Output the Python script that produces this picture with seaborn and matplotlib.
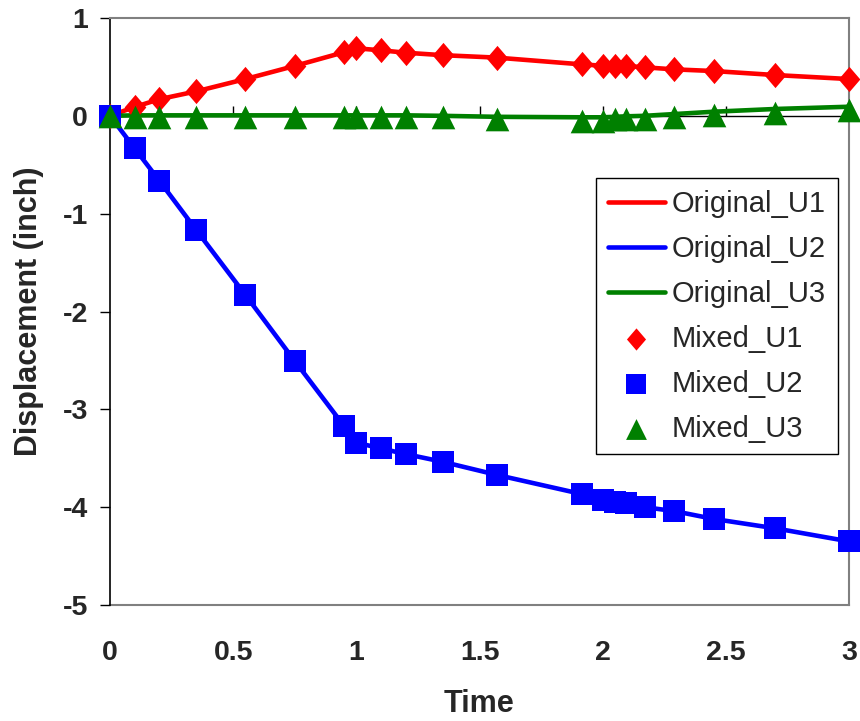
import matplotlib
matplotlib.use("Agg")
import matplotlib.pyplot as plt
from matplotlib.ticker import FuncFormatter
import seaborn as sns

# ---- data ----
time = [0, 0.1, 0.2, 0.35, 0.55, 0.75, 0.95, 1.0, 1.1, 1.2, 1.35, 1.57,
        1.915, 2.0, 2.05, 2.095, 2.17, 2.29, 2.45, 2.70, 3.0]

orig_u1 = [0, 0.09, 0.17, 0.25, 0.376, 0.51, 0.65, 0.69, 0.67, 0.645, 0.62,
           0.595, 0.526, 0.512, 0.51, 0.51, 0.496, 0.475, 0.458, 0.417, 0.376]
orig_u2 = [0, -0.332, -0.663, -1.167, -1.832, -2.506, -3.17, -3.34, -3.40,
           -3.457, -3.536, -3.67, -3.866, -3.93, -3.945, -3.96, -4.0, -4.04,
           -4.12, -4.216, -4.35]
orig_u3 = [0, 0.005, 0.005, 0.005, 0.005, 0.005, 0.005, 0.005, 0.005, 0.005,
           0.0, -0.01, -0.015, -0.015, -0.01, -0.005, 0.0, 0.018, 0.042,
           0.07, 0.093]

mixed_u1 = list(orig_u1)
mixed_u2 = list(orig_u2)
mixed_u3 = [0, -0.012, -0.012, -0.012, -0.012, -0.012, -0.012, -0.012,
            -0.012, -0.012, -0.015, -0.033, -0.05, -0.05, -0.035, -0.03,
            -0.03, -0.015, 0.005, 0.03, 0.063]

x_ticks = [0, 0.5, 1, 1.5, 2, 2.5, 3]
y_ticks = [-5, -4, -3, -2, -1, 0, 1]

RED, BLUE, GREEN = "#FF0000", "#0000FF", "#008000"
GRAY = "#808080"

sns.set_style("ticks")
plt.rcParams["font.family"] = ["Liberation Sans", "DejaVu Sans"]
plt.rcParams["font.weight"] = "bold"
plt.rcParams["axes.labelweight"] = "bold"

fig = plt.figure(figsize=(8.6, 7.21), dpi=100)
ax = fig.add_axes([110 / 860, 1 - 605 / 721, 739 / 860, 587 / 721])

for y, c, lab in [(orig_u1, RED, "Original_U1"),
                  (orig_u2, BLUE, "Original_U2"),
                  (orig_u3, GREEN, "Original_U3")]:
    sns.lineplot(x=time, y=y, color=c, lw=3.3, label=lab, ax=ax,
                 sort=False, estimator=None, zorder=3)

diamond = [(0, 0.5), (0.43, 0), (0, -0.5), (-0.43, 0), (0, 0.5)]
for y, c, lab, m, s in [(mixed_u1, RED, "Mixed_U1", diamond, 330),
                        (mixed_u2, BLUE, "Mixed_U2", "s", 250),
                        (mixed_u3, GREEN, "Mixed_U3", "^", 290)]:
    sns.scatterplot(x=time, y=y, color=c, marker=m, s=s, linewidth=0,
                    label=lab, ax=ax, clip_on=False, zorder=4)

ax.set_xlim(0, 3)
ax.set_ylim(-5, 1)

fmt = FuncFormatter(lambda v, p: f"{v:g}")

# x axis line crossing at y = 0 with inward ticks, no labels
ax.spines["bottom"].set_position(("data", 0))
ax.spines["bottom"].set_color("black")
ax.spines["bottom"].set_linewidth(1.0)
ax.set_xticks(x_ticks)
ax.tick_params(axis="x", direction="in", length=7, width=1, color="black",
               bottom=True, labelbottom=False)

ax.spines["left"].set_color("black")
ax.spines["left"].set_linewidth(1.2)
for side in ("top", "right"):
    ax.spines[side].set_visible(True)
    ax.spines[side].set_color(GRAY)
    ax.spines[side].set_linewidth(1.5)

ax.set_yticks(y_ticks)
ax.yaxis.set_major_formatter(fmt)
ax.tick_params(axis="y", direction="out", length=7, width=1, color="black",
               pad=9, labelsize=20.5, left=True)

# bottom plot-area border carrying the x tick labels
sec = ax.secondary_xaxis("bottom")
sec.set_xticks(x_ticks)
sec.xaxis.set_major_formatter(fmt)
sec.tick_params(axis="x", length=0, pad=25, labelsize=20.5)
sec.spines["bottom"].set_color(GRAY)
sec.spines["bottom"].set_linewidth(1.5)

ax.set_xlabel("Time", fontsize=22, fontweight="bold", va="center")
ax.xaxis.set_label_coords(0.5, -0.169)
ax.set_ylabel("Displacement (inch)", fontsize=22, fontweight="bold",
              va="center")
ax.yaxis.set_label_coords(-0.1096, 0.5)

leg = ax.legend(loc="upper right", bbox_to_anchor=(0.985, 0.727),
                frameon=True, fancybox=False, edgecolor="black",
                framealpha=1, prop={"weight": "normal", "size": 21},
                labelspacing=0.58, handlelength=1.95, handletextpad=0.25,
                borderpad=0.4, borderaxespad=0, markerscale=0.88)
leg.get_frame().set_linewidth(1.0)

fig.savefig("out.png", dpi=100)
